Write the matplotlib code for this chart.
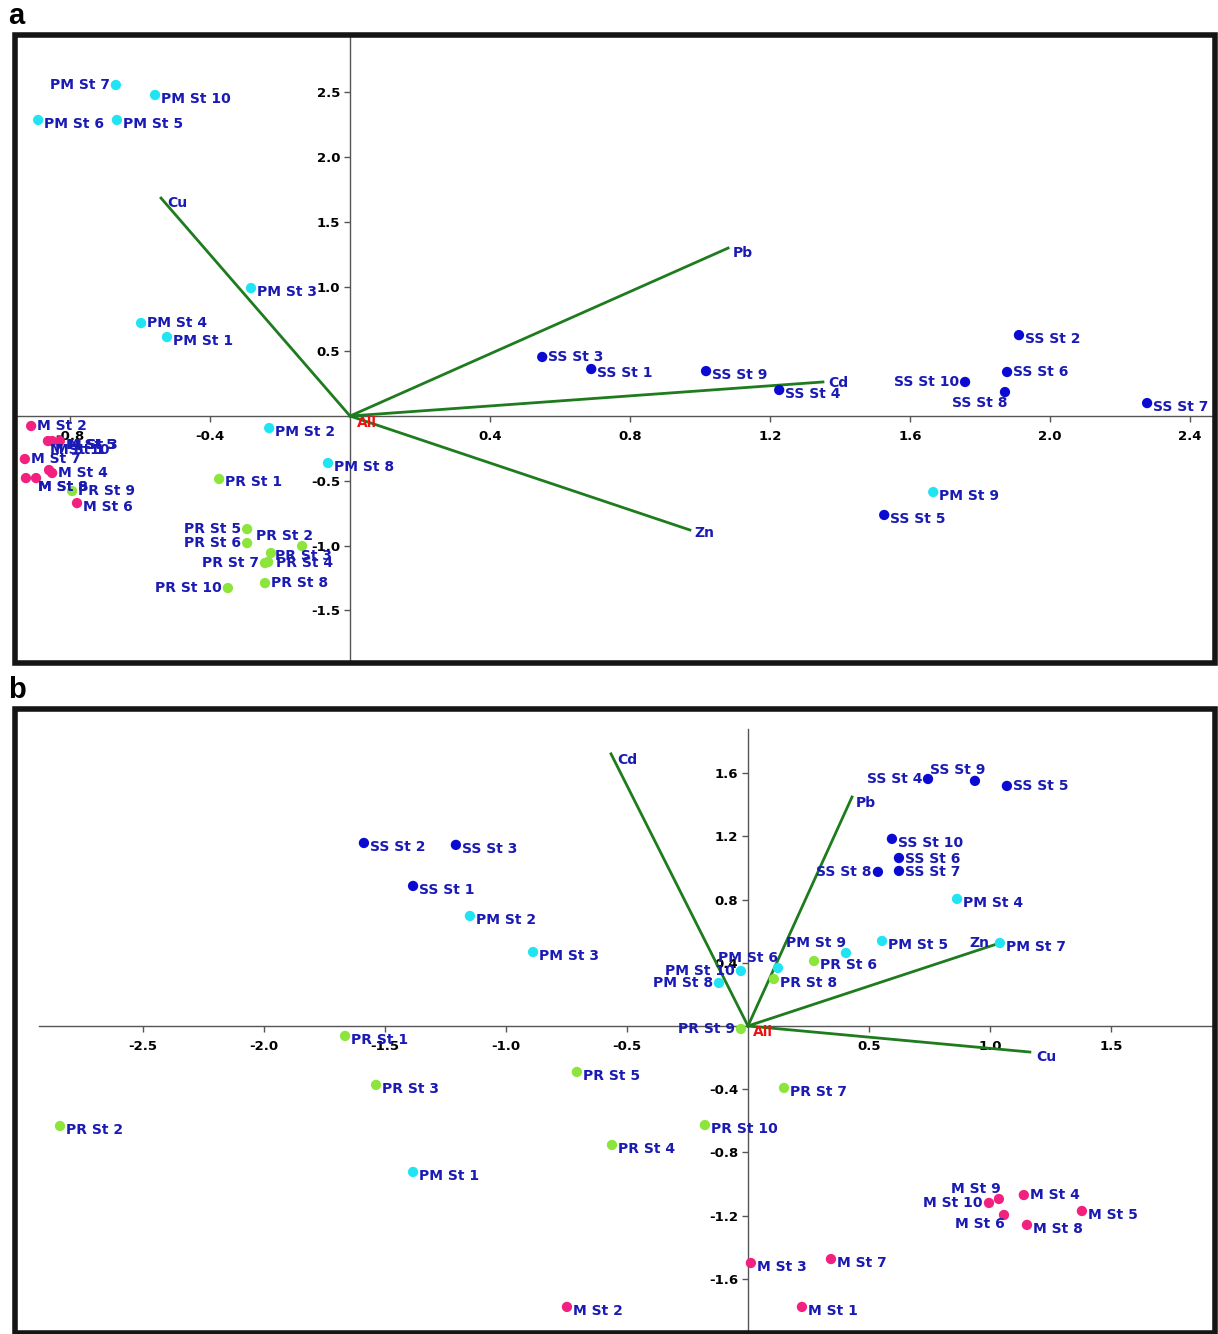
import matplotlib
matplotlib.use("Agg")
import matplotlib.pyplot as plt
from matplotlib.patches import Rectangle

plt.rcParams['font.family'] = ['DejaVu Sans']

W, H = 1218, 1334
stations = list(range(1, 11))

# ---------------- Panel a data (stations 1..10) ----------------
a_pm_x = [-0.523, -0.231, -0.283, -0.597, -0.666, -0.891, -0.669, -0.063, 1.666, -0.557]
a_pm_y = [0.610, -0.093, 0.988, 0.718, 2.286, 2.286, 2.556, -0.363, -0.587, 2.479]
a_ss_x = [0.689, 1.911, 0.549, 1.226, 1.526, 1.877, 2.277, 1.871, 1.017, 1.757]
a_ss_y = [0.363, 0.625, 0.456, 0.201, -0.764, 0.340, 0.100, 0.185, 0.347, 0.263]
a_m_x = [-0.851, -0.911, -0.863, -0.851, -0.829, -0.780, -0.929, -0.897, -0.926, -0.860]
a_m_y = [-0.193, -0.077, -0.193, -0.440, -0.193, -0.672, -0.332, -0.479, -0.479, -0.417]
a_pr_x = [-0.374, -0.137, -0.226, -0.234, -0.294, -0.294, -0.243, -0.243, -0.794, -0.349]
a_pr_y = [-0.486, -1.004, -1.058, -1.127, -0.873, -0.981, -1.135, -1.290, -0.579, -1.328]
a_var_names = ['Cu', 'Pb', 'Cd', 'Zn']
a_var_x = [-0.540, 1.080, 1.351, 0.971]
a_var_y = [1.683, 1.297, 0.263, -0.880]
a_xticks = [-0.8, -0.4, 0.4, 0.8, 1.2, 1.6, 2.0, 2.4]
a_yticks = [-1.5, -1.0, -0.5, 0.5, 1.0, 1.5, 2.0, 2.5]

# ---------------- Panel b data (stations 1..10) ----------------
b_ss_x = [-1.384, -1.587, -1.207, 0.744, 1.070, 0.624, 0.624, 0.537, 0.938, 0.595]
b_ss_y = [0.886, 1.158, 1.146, 1.563, 1.519, 1.063, 0.981, 0.975, 1.551, 1.184]
b_pm_x = [-1.384, -1.149, -0.888, 0.864, 0.554, 0.124, 1.041, -0.120, 0.405, -0.029]
b_pm_y = [-0.924, 0.696, 0.468, 0.804, 0.538, 0.367, 0.525, 0.272, 0.462, 0.348]
b_pr_x = [-1.665, -2.843, -1.537, -0.562, -0.707, 0.273, 0.149, 0.107, -0.029, -0.178]
b_pr_y = [-0.063, -0.633, -0.373, -0.753, -0.291, 0.411, -0.392, 0.297, -0.019, -0.627]
b_m_x = [0.223, -0.748, 0.012, 1.140, 1.380, 1.058, 0.343, 1.153, 1.037, 0.996]
b_m_y = [-1.778, -1.778, -1.500, -1.070, -1.171, -1.196, -1.475, -1.259, -1.095, -1.120]
b_var_names = ['Cd', 'Pb', 'Zn', 'Cu']
b_var_x = [-0.566, 0.430, 1.041, 1.165]
b_var_y = [1.722, 1.449, 0.525, -0.165]
b_xticks = [-2.5, -2.0, -1.5, -1.0, -0.5, 0.5, 1.0, 1.5]
b_yticks = [-1.6, -1.2, -0.8, -0.4, 0.4, 0.8, 1.2, 1.6]

# ---------------- styles ----------------
COL = {'PM': '#20E4F2', 'SS': '#0A0AD2', 'M': '#F2207E', 'PR': '#8CE53A'}
TXT = '#1A1AB4'
VEC = '#1E7B1E'
FS = 10
TFS = 9.5

# label placement overrides: (ha, dx_px, dy_px) ; default text to the right
DEFAULT = ('left', 6, -4)
a_place = {
    'PM St 7': ('right', -6, 0), 'PM St 4': ('left', 6, 0),
    'SS St 3': ('left', 6, 0), 'SS St 10': ('right', -6, 0), 'SS St 6': ('left', 6, 0),
    'SS St 8': ('right', 3, -11),
    'M St 2': ('left', 6, 0), 'M St 1': ('left', 3, -9), 'M St 7': ('left', 6, 0),
    'M St 4': ('left', 6, 0), 'M St 8': ('left', 2, -9), 'M St 9': ('left', 12, -9),
    'M St 10': ('left', 1, 20), 'M St 3': ('left', 20, -4),
    'PR St 9': ('left', 6, 0), 'PR St 5': ('right', -6, 0), 'PR St 6': ('right', -6, 0),
    'PR St 2': ('right', 11, 10), 'PR St 3': ('left', 4, -3), 'PR St 4': ('left', 8, -1),
    'PR St 7': ('right', -6, 0), 'PR St 8': ('left', 6, 0), 'PR St 10': ('right', -6, 0),
    'PR St 1': ('left', 6, -3),
}
b_place = {
    'SS St 4': ('right', -6, 0), 'SS St 9': ('right', 10, 11), 'SS St 5': ('left', 6, 0),
    'SS St 6': ('left', 6, -1), 'SS St 7': ('left', 6, -1), 'SS St 8': ('right', -6, 0),
    'PM St 9': ('right', 0, 10), 'PM St 6': ('right', 0, 10), 'PM St 10': ('right', -6, 0),
    'PM St 8': ('right', -6, 0), 'PR St 9': ('right', -6, 0),
    'M St 9': ('right', 2, 10), 'M St 10': ('right', -6, 0), 'M St 4': ('left', 6, 0),
    'M St 6': ('right', 1, -9),
}
a_vplace = {'Cu': ('left', 6, -5), 'Pb': ('left', 5, -5), 'Cd': ('left', 5, -1), 'Zn': ('left', 4, -3)}
b_vplace = {'Cd': ('left', 6, -6), 'Pb': ('left', 4, -6), 'Zn': ('right', -10, 0), 'Cu': ('left', 6, -5)}


def add_axes_px(fig, x0, x1, y0, y1):
    return fig.add_axes([x0 / W, 1 - y1 / H, (x1 - x0) / W, (y1 - y0) / H])


def setup(ax, xlim, ylim, xticks, yticks, xb=None, yb=None):
    ax.set_xlim(*xlim)
    ax.set_ylim(*ylim)
    for s in ['top', 'right']:
        ax.spines[s].set_visible(False)
    ax.spines['left'].set_position('zero')
    ax.spines['bottom'].set_position('zero')
    for s in ['left', 'bottom']:
        ax.spines[s].set_color('#555555')
        ax.spines[s].set_linewidth(1.0)
        ax.spines[s].set_zorder(1)
    if xb:
        ax.spines['bottom'].set_bounds(*xb)
    if yb:
        ax.spines['left'].set_bounds(*yb)
    ax.set_xticks(xticks)
    ax.set_yticks(yticks)
    ax.set_xticklabels([f'{t:.1f}' for t in xticks], fontweight='bold', fontsize=TFS)
    ax.set_yticklabels([f'{t:.1f}' for t in yticks], fontweight='bold', fontsize=TFS)
    ax.tick_params(axis='x', direction='out', length=4, width=1, color='#555555', pad=6)
    ax.tick_params(axis='y', direction='out', length=4, width=1, color='#555555', pad=3)
    ax.add_patch(Rectangle((0, 0), 1, 1, transform=ax.transAxes, fill=False,
                           lw=4, ec='#151515', clip_on=False, zorder=20))


def draw_vectors(ax, names, vx, vy, place):
    for n, x, y in zip(names, vx, vy):
        ax.plot([0, x], [0, y], color=VEC, lw=2.0, zorder=2)
        ha, dx, dy = place.get(n, DEFAULT)
        ax.annotate(n, (x, y), xytext=(dx * 0.72, dy * 0.72), textcoords='offset points',
                    ha=ha, va='center', fontsize=FS, fontweight='bold', color=TXT, zorder=6)


def draw_group(ax, prefix, xs, ys, place):
    ax.scatter(xs, ys, s=55, color=COL[prefix], edgecolors='none', zorder=4)
    for st, x, y in zip(stations, xs, ys):
        lab = f'{prefix} St {st}'
        ha, dx, dy = place.get(lab, DEFAULT)
        ax.annotate(lab, (x, y), xytext=(dx * 0.72, dy * 0.72), textcoords='offset points',
                    ha=ha, va='center', fontsize=FS, fontweight='bold', color=TXT, zorder=5)


fig = plt.figure(figsize=(W / 100, H / 100), dpi=100)

# ---- panel a ----
axa = add_axes_px(fig, 14.5, 1215, 34.5, 663)
setup(axa, (-0.9586, 2.471), (-1.907, 2.946), a_xticks, a_yticks)
draw_vectors(axa, a_var_names, a_var_x, a_var_y, a_vplace)
draw_group(axa, 'PM', a_pm_x, a_pm_y, a_place)
draw_group(axa, 'SS', a_ss_x, a_ss_y, a_place)
draw_group(axa, 'PR', a_pr_x, a_pr_y, a_place)
draw_group(axa, 'M', a_m_x, a_m_y, a_place)
axa.annotate('All', (0, 0), xytext=(7 * 0.72, -7 * 0.72), textcoords='offset points',
             ha='left', va='center', fontsize=FS, fontweight='bold', color='#F01010', zorder=6)

# ---- panel b ----
axb = add_axes_px(fig, 14.5, 1215, 708.5, 1333)
setup(axb, (-3.031, 1.930), (-1.943, 2.009), b_xticks, b_yticks,
      xb=(-2.93, 1.930), yb=(-1.943, 1.88))
draw_vectors(axb, b_var_names, b_var_x, b_var_y, b_vplace)
draw_group(axb, 'SS', b_ss_x, b_ss_y, b_place)
draw_group(axb, 'PM', b_pm_x, b_pm_y, b_place)
draw_group(axb, 'PR', b_pr_x, b_pr_y, b_place)
draw_group(axb, 'M', b_m_x, b_m_y, b_place)
axb.annotate('All', (0, 0), xytext=(5 * 0.72, -6 * 0.72), textcoords='offset points',
             ha='left', va='center', fontsize=FS, fontweight='bold', color='#F01010', zorder=6)

fig.text(8 / W, 1 - 2 / H, 'a', ha='left', va='top', fontsize=21, fontweight='bold',
         family=['Liberation Sans', 'DejaVu Sans'])
fig.text(8 / W, 1 - 676 / H, 'b', ha='left', va='top', fontsize=21, fontweight='bold',
         family=['Liberation Sans', 'DejaVu Sans'])

fig.savefig('out.png', dpi=100)
